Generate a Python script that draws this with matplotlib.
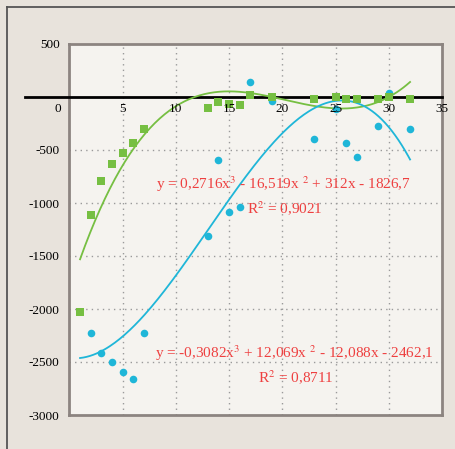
import numpy as np
import matplotlib.pyplot as plt
from matplotlib.lines import Line2D

plt.rcParams["mathtext.fontset"] = "stix"

# Datos
green_x = [1, 2, 3, 4, 5, 6, 7, 13, 14, 15, 16, 17, 19, 23, 25, 26, 27, 29, 30, 32]
green_y = [-2030, -1110, -790, -630, -525, -437, -305, -107, -44, -69, -72, 19,
           0, -16, 0, -19, -19, -19, -3, -19]
blue_x = [2, 3, 4, 5, 6, 7, 13, 14, 15, 16, 17, 19, 23, 25, 26, 27, 29, 30, 32]
blue_y = [-2230, -2412, -2503, -2591, -2663, -2230, -1308, -597, -1088, -1035,
          144, -41, -399, -116, -437, -563, -270, 38, -305]

# Coeficientes de las líneas de tendencia (polinómicas de grado 3)
green_coef = [0.2716, -16.519, 312, -1826.7]
blue_coef = [-0.3082, 12.069, -12.088, -2462.1]

x_ticks = [0, 5, 10, 15, 20, 25, 30, 35]
y_ticks = [500, -500, -1000, -1500, -2000, -2500, -3000]

green = "#76bf42"
blue = "#1fb6d8"
red = "#ee4040"
serif = "Liberation Serif"

fig = plt.figure(figsize=(4.55, 4.49), dpi=100, facecolor="#e8e3dc")
ax = fig.add_axes([69.4 / 455, 34 / 449, (442 - 69.4) / 455, (415 - 44) / 449])
ax.set_facecolor("#f5f3ef")

ax.set_xlim(0, 35)
ax.set_ylim(-3000, 500)

# Rejilla punteada
for xv in x_ticks[1:-1]:
    ax.axvline(xv, color="#9a9a9a", lw=1, ls=(0, (1, 3)), zorder=1)
for yv in y_ticks[1:-1]:
    ax.axhline(yv, color="#9a9a9a", lw=1, ls=(0, (1, 3)), zorder=1)

# Eje horizontal en y = 0
ax.plot([-4.2, 35], [0, 0], color="black", lw=2, clip_on=False, zorder=3)

# Líneas de tendencia
xs = np.linspace(1, 32, 200)
ax.plot(xs, np.polyval(green_coef, xs), color=green, lw=1.3, zorder=4)
ax.plot(xs, np.polyval(blue_coef, xs), color=blue, lw=1.3, zorder=4)

# Puntos
ax.scatter(blue_x, blue_y, marker="o", s=30, color=blue, zorder=5, linewidths=0)
ax.scatter(green_x, green_y, marker="s", s=38, color=green, zorder=6, linewidths=0)

# Ejes y etiquetas
for sp in ax.spines.values():
    sp.set_color("#8c8480")
    sp.set_linewidth(2)
ax.set_xticks([])
ax.set_yticks(y_ticks)
ax.set_yticklabels([str(v) for v in y_ticks], fontfamily=serif, fontsize=9.5)
ax.tick_params(axis="y", length=0, pad=7)

for xv in x_ticks:
    xpos = xv if xv != 0 else -1.1
    ax.text(xpos, -55, str(xv), ha="center", va="top", fontfamily=serif,
            fontsize=9.5, zorder=7)

# Ecuaciones
eq_kw = dict(color=red, fontfamily=serif, fontsize=11, ha="center", va="center", zorder=7)
ax.text(20.1, -820, "y = 0,2716x$^{3}$ - 16,519x $^{2}$ + 312x - 1826,7", **eq_kw)
ax.text(20.2, -1052, "R$^{2}$ = 0,9021", **eq_kw)
ax.text(21.1, -2415, "y = -0,3082x$^{3}$ + 12,069x $^{2}$ - 12,088x - 2462,1", **eq_kw)
ax.text(21.3, -2646, "R$^{2}$ = 0,8711", **eq_kw)

# Marco exterior
fig.add_artist(Line2D([7 / 455, 7 / 455], [0, 1 - 7 / 449], color="#555555", lw=1.3))
fig.add_artist(Line2D([7 / 455, 1], [1 - 7 / 449, 1 - 7 / 449], color="#555555", lw=1.3))

fig.savefig("out.png", dpi=100, facecolor=fig.get_facecolor())
